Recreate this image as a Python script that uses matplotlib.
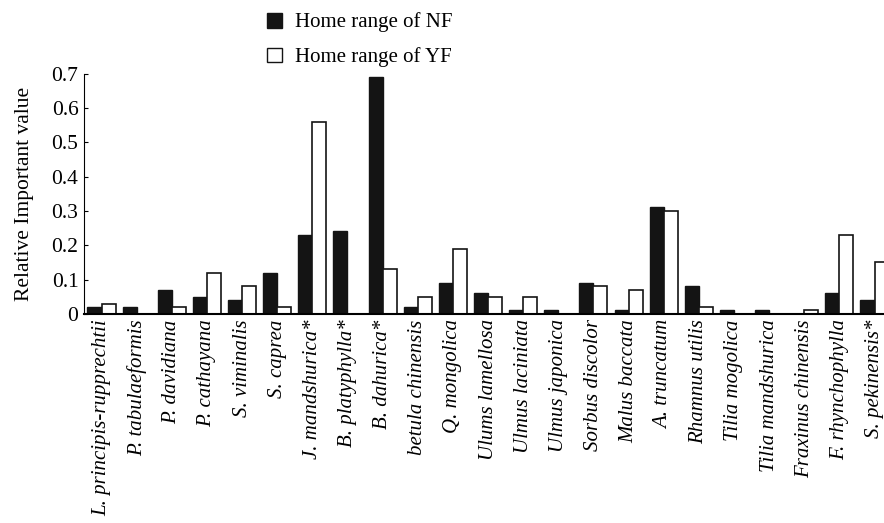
import numpy as np
import matplotlib.pyplot as plt
from matplotlib.patches import Patch

species = ['L. principis-rupprechtii', 'P. tabulaeformis', 'P. davidiana', 'P. cathayana',
           'S. viminalis', 'S. caprea', 'J. mandshurica*', 'B. platyphylla*', 'B. dahurica*',
           'betula chinensis', 'Q. mongolica', 'Ulums lamellosa', 'Ulmus laciniata',
           'Ulmus japonica', 'Sorbus discolor', 'Malus baccata', 'A. truncatum',
           'Rhamnus utilis', 'Tilia mogolica', 'Tilia mandshurica', 'Fraxinus chinensis',
           'F. rhynchophylla', 'S. pekinensis*']
nf = [0.02, 0.02, 0.07, 0.05, 0.04, 0.12, 0.23, 0.24, 0.69, 0.02, 0.09, 0.06,
      0.01, 0.01, 0.09, 0.01, 0.31, 0.08, 0.01, 0.01, 0.0, 0.06, 0.04]
yf = [0.03, 0.0, 0.02, 0.12, 0.08, 0.02, 0.56, 0.0, 0.13, 0.05, 0.19, 0.05,
      0.05, 0.0, 0.08, 0.07, 0.30, 0.02, 0.0, 0.0, 0.01, 0.23, 0.15]

plt.rcParams['font.family'] = ['Liberation Serif', 'DejaVu Serif']

fig = plt.figure(figsize=(8.84, 5.23), dpi=100)
ax = fig.add_axes([0.095, 0.4, 0.905, 0.459])

x = np.arange(len(species))
w = 0.4
ax.bar(x - w / 2, nf, w, color='#141414', edgecolor='#141414', linewidth=1)
ax.bar(x + w / 2, yf, w, color='white', edgecolor='#141414', linewidth=1.2)

ax.set_xlim(-0.5, 22.27)
ax.set_ylim(0, 0.7)
ax.set_yticks(np.arange(0, 0.71, 0.1))
ax.set_yticklabels(['0', '0.1', '0.2', '0.3', '0.4', '0.5', '0.6', '0.7'], fontsize=15.5)
ax.set_xticks(x)
ax.set_xticklabels(species, rotation=90, style='italic', fontsize=15)
ax.tick_params(axis='y', direction='in', length=3, pad=4)
ax.tick_params(axis='x', length=0, pad=4)
ax.spines['top'].set_visible(False)
ax.spines['right'].set_visible(False)
ax.spines['bottom'].set_linewidth(1.5)
ax.set_ylabel('Relative Important value', fontsize=15.5)
ax.yaxis.set_label_coords(-0.063, 0.5)

handles = [Patch(facecolor='#141414', edgecolor='#141414', label='Home range of NF'),
           Patch(facecolor='white', edgecolor='#141414', label='Home range of YF')]
fig.legend(handles=handles, loc='upper left', bbox_to_anchor=(0.281, 1.012),
           frameon=False, fontsize=15, handlelength=0.72, handleheight=0.72,
           handletextpad=0.6, labelspacing=0.72)

fig.savefig('out.png', dpi=100)
